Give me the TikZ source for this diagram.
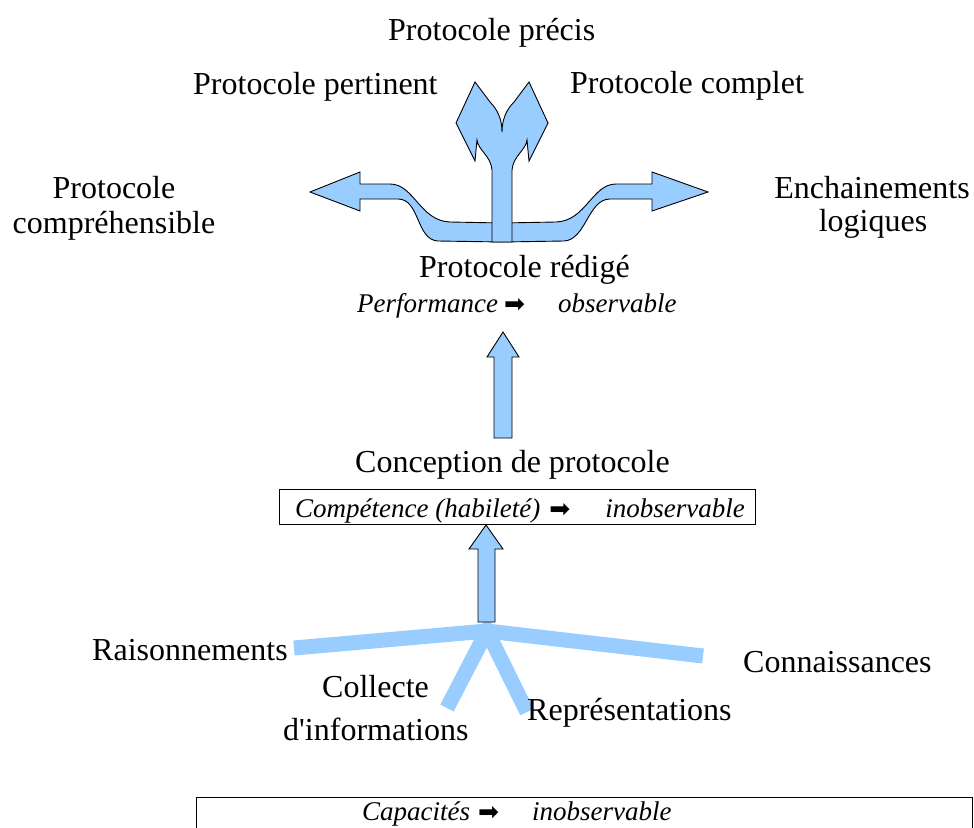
\documentclass[tikz,border=0pt]{standalone}
\usepackage{fontspec}
\setmainfont{Liberation Serif}
\newfontfamily\djv{DejaVu Sans}
\definecolor{myblue}{RGB}{153,204,255}
\newcommand{\harr}{{\djv\fontsize{25}{25}\selectfont ➡}}
\begin{document}
\begin{tikzpicture}[x=1pt,y=-1pt,
  lbl/.style={font=\fontsize{32}{36}\selectfont, inner sep=0pt, anchor=base west},
  lblc/.style={font=\fontsize{32}{36}\selectfont, inner sep=0pt, anchor=base},
  itl/.style={font=\fontsize{27}{30}\selectfont\itshape, inner sep=0pt, anchor=base west},
  bluefill/.style={fill=myblue, draw=black, line width=0.9pt, line join=miter},
  branch/.style={draw=myblue, line width=15pt, line join=miter, miter limit=10},
  framebox/.style={draw=black, line width=1pt}]
\useasboundingbox (0,0) rectangle (974,827);
\fill[white] (0,0) rectangle (974,827);

% top labels
\node[lbl] (precis) at (388,40) {Protocole précis};
\node[lbl] (pertinent) at (193,94) {Protocole pertinent};
\node[lbl] (complet) at (570,93) {Protocole complet};
\node[lblc] (comp1) at (114,198) {Protocole};
\node[lblc] (comp2) at (114,233) {compréhensible};
\node[lblc] (ench1) at (872,198) {Enchainements};
\node[lblc] (ench2) at (873,231) {logiques};

% fork: lower left arrow
\path[bluefill] (502,242) -- (438,241) .. controls (416,240) and (420,199) .. (398,199)
  -- (360,199) -- (360,211) -- (310,192) -- (360,172) -- (360,184) -- (390,184)
  .. controls (414,184) and (420,221) .. (450,222) -- (502,223) -- cycle;
% fork: lower right arrow
\path[bluefill] (502,242) -- (564,241) .. controls (586,240) and (588,199) .. (610,199)
  -- (652,199) -- (652,211) -- (708,192) -- (652,172) -- (652,184) -- (616,184)
  .. controls (592,184) and (586,221) .. (556,222) -- (502,223) -- cycle;
% fork: upper Y
\path[bluefill] (492,242) -- (492,170) .. controls (491,156) and (478,150) .. (477,140)
  -- (475,161) -- (456,123) -- (475,82) -- (490,102)
  .. controls (498,110) and (502,120) .. (502,132)
  .. controls (502,120) and (506,110) .. (514,102)
  -- (529,82) -- (548,123) -- (529,161) -- (527,140)
  .. controls (526,150) and (513,156) .. (512,170) -- (512,242) -- cycle;

% protocole redige
\node[lbl] (redige) at (419,277) {Protocole rédigé};
\node[itl] (perf) at (357,312) {Performance\hspace{6pt}\harr\hspace{33pt}observable};

% arrow 2
\path[bluefill] (503,332) -- (519,357) -- (512,357) -- (512,438) -- (494,438) -- (494,357) -- (487,357) -- cycle;

% conception
\node[lbl] (concep) at (355,472) {Conception de protocole};
\draw[framebox] (279,489) rectangle (755,524);
\node[itl] (compet) at (295,517) {Compétence (habileté)\hspace{9pt}\harr\hspace{35pt}inobservable};

% branches
\coordinate (j) at (487,631);
\coordinate (eR) at (294,648);
\coordinate (eK) at (703,656);
\coordinate (eC) at (447,708);
\coordinate (eP) at (527,712);
\draw[branch] (eR) -- (j) -- (eK);
\draw[branch] (eC) -- (j) -- (eP);

% arrow 3
\path[bluefill] (486,525) -- (503,549) -- (495,549) -- (495,622) -- (478,622) -- (478,549) -- (469,549) -- cycle;

% bottom labels
\node[lbl] (rais) at (92,660) {Raisonnements};
\node[lbl] (conn) at (743,672) {Connaissances};
\node[lbl] (coll1) at (322,697) {Collecte};
\node[lbl] (coll2) at (283,740) {d\textquotesingle informations};
\node[lbl] (repr) at (527,720) {Représentations};

% capacites box
\draw[framebox] (196,797) rectangle (972,845);
\node[itl] (capa) at (362,820) {Capacités\hspace{8pt}\harr\hspace{33pt}inobservable};
\end{tikzpicture}
\end{document}
